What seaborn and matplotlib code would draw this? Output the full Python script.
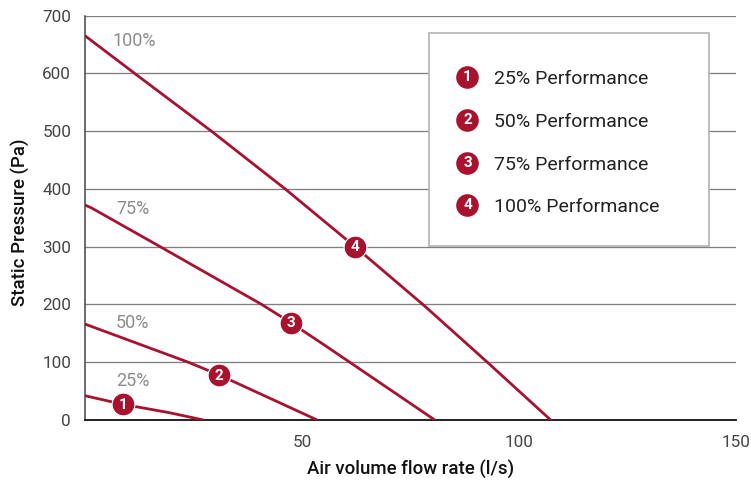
import matplotlib
matplotlib.use("Agg")
import matplotlib.pyplot as plt
from matplotlib.patches import Rectangle
import pandas as pd
import seaborn as sns

# curves
x_25 = [0, 8.8, 19.2, 27.3]
y_25 = [42, 27, 13, 0]
x_50 = [0, 23.8, 30.9, 53.5]
y_50 = [166, 100, 78, 0]
x_75 = [0, 1.5, 17.3, 40.7, 47.5, 55.3, 61, 80.6]
y_75 = [372, 367, 300, 200, 168, 129, 100, 0]
x_100 = [0, 11.4, 29.1, 46.1, 62.2, 78.3, 92.7, 107.3]
y_100 = [665, 600, 500, 400, 300, 197, 100, 0]

marker_x = [8.8, 30.9, 47.5, 62.2]
marker_y = [27, 78, 168, 300]
marker_ids = ["1", "2", "3", "4"]
curve_labels = ["25%", "50%", "75%", "100%"]
curve_label_x = [7.1, 7.1, 7.3, 6.4]
curve_label_y = [67.5, 168, 365.5, 655.5]
legend_labels = ["25% Performance", "50% Performance", "75% Performance", "100% Performance"]
x_ticks = [50, 100, 150]
y_ticks = [0, 100, 200, 300, 400, 500, 600, 700]

RED = "#a8122e"
sns.set_theme(style="white")
plt.rcParams["font.family"] = ["Roboto", "DejaVu Sans"]

W, H = 751, 484
fig = plt.figure(figsize=(W / 100, H / 100), dpi=100)
ax = fig.add_axes([85 / W, 1 - 420 / H, 651 / W, 404.5 / H])

for xs, ys in [(x_25, y_25), (x_50, y_50), (x_75, y_75), (x_100, y_100)]:
    df = pd.DataFrame({"x": xs, "y": ys})
    sns.lineplot(data=df, x="x", y="y", color=RED, lw=2.0, ax=ax, zorder=3,
                 estimator=None, sort=False, solid_joinstyle="round")

sns.scatterplot(x=marker_x, y=marker_y, color=RED, s=270, linewidth=0.8, edgecolor="white",
                ax=ax, zorder=4, clip_on=False)
for mx, my, t in zip(marker_x, marker_y, marker_ids):
    ax.text(mx, my - 1, t, color="white", fontsize=11, fontweight="bold", ha="center", va="center", zorder=5)

for lx, ly, t in zip(curve_label_x, curve_label_y, curve_labels):
    ax.text(lx, ly, t, color="#8c8c8c", fontsize=13, ha="left", va="center", zorder=2)

ax.set_xlim(0, 150)
ax.set_ylim(0, 700)
ax.set_xticks(x_ticks)
ax.set_yticks(y_ticks)
ax.yaxis.grid(True, color="#808080", lw=0.95)
ax.xaxis.grid(False)
ax.set_axisbelow(True)
ax.tick_params(axis="both", length=0, labelsize=12.3, labelcolor="#444444")
ax.tick_params(axis="x", pad=11)
ax.tick_params(axis="y", pad=10)
ax.set_xlabel("Air volume flow rate (l/s)", fontsize=13.4, fontweight="medium", color="#111111", labelpad=7)
ax.set_ylabel("Static Pressure (Pa)", fontsize=13.4, fontweight="medium", color="#111111", labelpad=9, y=0.49)
for s in ["top", "right"]:
    ax.spines[s].set_visible(False)
ax.spines["left"].set_visible(True)
ax.spines["left"].set_color("#444444")
ax.spines["left"].set_linewidth(1.1)
ax.spines["bottom"].set_visible(True)
ax.spines["bottom"].set_color("#111111")
ax.spines["bottom"].set_linewidth(1.3)

# legend panel, placed in axes fractions
to_ax = lambda px, py: ((px - 85) / 651, (420 - py) / 404.5)
bx, by = to_ax(429, 245.5)
ax.add_patch(Rectangle((bx, by), 280 / 651, 212 / 404.5, transform=ax.transAxes,
                       fc="white", ec="#b3b3b3", lw=1.2, zorder=6))
for py, t, n in zip([77, 120, 163, 205], legend_labels, marker_ids):
    px_m = to_ax(467.5, py)
    ax.scatter(*px_m, s=265, color=RED, linewidth=0, transform=ax.transAxes, zorder=7, clip_on=False)
    ax.text(px_m[0], px_m[1] - 0.001, n, color="white", fontsize=11, fontweight="bold", ha="center",
            va="center", transform=ax.transAxes, zorder=8)
    tx = to_ax(494.5, py + 2)
    ax.text(tx[0], tx[1], t, color="#222222", fontsize=14, ha="left", va="center",
            transform=ax.transAxes, zorder=8)

fig.savefig("out.png", dpi=100)
